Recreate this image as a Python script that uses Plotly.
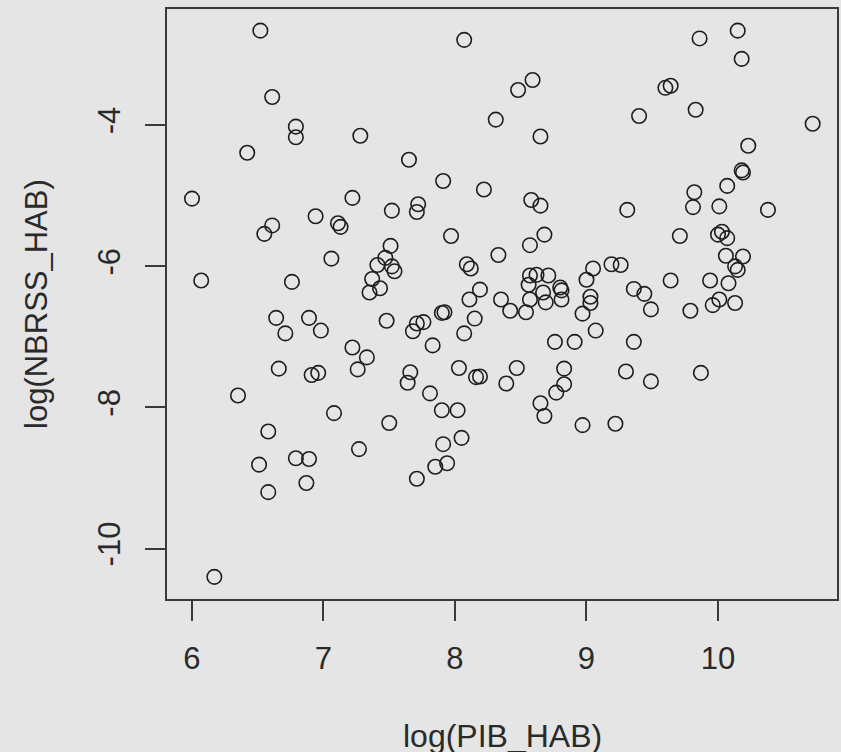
import plotly.graph_objects as go

# log(PIB_HAB) values
log_pib = [
    6.52, 6.61, 6.79, 6.79, 7.28, 6.42, 6.00, 7.22, 6.94, 6.61,
    6.55, 7.11, 7.13, 7.06, 6.07, 6.76, 6.64, 6.71, 6.89, 6.98,
    7.22, 7.33, 7.26, 6.66, 6.91, 6.96, 6.35, 7.08, 6.58, 7.27,
    6.51, 6.79, 6.89, 6.87, 6.58, 6.17,
    7.51, 7.47, 7.41, 7.52, 7.54, 7.37, 7.43, 7.35, 7.52,
    8.07, 8.59, 8.48, 8.31, 8.65, 7.65, 7.91, 8.22, 8.58, 8.65,
    7.72, 7.71, 7.97, 8.68, 8.57, 8.33, 8.09, 8.12, 9.05, 9.00,
    8.57, 8.62, 8.71, 8.56, 8.67, 8.80, 8.81, 8.81, 8.69, 8.57,
    8.35, 8.19, 8.11, 9.03, 9.03, 8.42, 8.54, 8.97, 9.07, 8.76,
    8.91,
    7.48, 7.71, 7.76, 7.68, 7.90, 7.92, 8.15, 8.07, 7.83,
    7.66, 7.64, 8.03, 8.16, 8.19, 8.47, 8.39, 8.83, 8.83, 8.77,
    7.81, 7.90, 8.02, 8.65, 8.68, 7.50, 8.97, 8.05, 7.91, 7.85,
    7.94, 7.71,
    10.15, 9.86, 10.18, 9.60, 9.64, 9.40, 9.83, 10.72, 10.23, 10.18,
    10.19, 10.07, 9.82, 9.81, 10.01, 9.31, 10.38, 9.71, 10.00, 10.03,
    10.07, 10.06, 10.19, 10.13, 10.15, 9.19, 9.26, 9.64, 9.94, 10.08,
    9.36, 9.44, 9.49, 9.79, 9.96, 10.01, 10.13,
    9.36, 9.30, 9.49, 9.87, 9.22,
]

# log(NBRSS_HAB) values
log_nbrss = [
    -2.66, -3.60, -4.02, -4.17, -4.15, -4.39, -5.04, -5.03, -5.29, -5.42,
    -5.54, -5.39, -5.44, -5.89, -6.20, -6.22, -6.73, -6.95, -6.73, -6.91,
    -7.15, -7.29, -7.46, -7.45, -7.54, -7.51, -7.83, -8.08, -8.34, -8.59,
    -8.81, -8.72, -8.73, -9.07, -9.20, -10.40,
    -5.71, -5.88, -5.98, -6.00, -6.07, -6.18, -6.31, -6.37, -5.21,
    -2.79, -3.36, -3.50, -3.92, -4.16, -4.49, -4.79, -4.91, -5.06, -5.14,
    -5.12, -5.23, -5.57, -5.55, -5.70, -5.84, -5.97, -6.03, -6.03, -6.19,
    -6.13, -6.12, -6.13, -6.26, -6.37, -6.30, -6.34, -6.47, -6.51, -6.47,
    -6.47, -6.33, -6.47, -6.43, -6.52, -6.63, -6.65, -6.67, -6.91, -7.07,
    -7.07,
    -6.77, -6.81, -6.79, -6.92, -6.66, -6.65, -6.74, -6.95, -7.12,
    -7.50, -7.65, -7.44, -7.57, -7.56, -7.44, -7.66, -7.45, -7.67, -7.79,
    -7.80, -8.04, -8.04, -7.94, -8.12, -8.22, -8.25, -8.43, -8.52, -8.84,
    -8.79, -9.01,
    -2.66, -2.77, -3.06, -3.47, -3.44, -3.87, -3.78, -3.98, -4.29, -4.64,
    -4.67, -4.86, -4.95, -5.16, -5.15, -5.20, -5.20, -5.57, -5.55, -5.51,
    -5.60, -5.85, -5.86, -6.00, -6.05, -5.97, -5.98, -6.20, -6.20, -6.24,
    -6.32, -6.39, -6.61, -6.63, -6.55, -6.47, -6.52,
    -7.07, -7.49, -7.63, -7.51, -8.23,
]

x_ticks = [6, 7, 8, 9, 10]
x_tick_labels = ["6", "7", "8", "9", "10"]
y_ticks = [-10, -8, -6, -4]
y_tick_labels = ["-10", "-8", "-6", "-4"]

BG = "#e5e5e5"
INK = "#2a2a2a"
FONT = "Liberation Sans, Arial, sans-serif"

fig = go.Figure(
    go.Scatter(
        x=log_pib,
        y=log_nbrss,
        mode="markers",
        marker=dict(symbol="circle-open", size=14.5, color="#1e1e1e",
                    line=dict(width=1.6, color="#1e1e1e")),
        hoverinfo="x+y",
    )
)

axis_common = dict(
    showgrid=False,
    zeroline=False,
    showline=True,
    linecolor="#3a3a3a",
    linewidth=2,
    mirror=True,
    ticks="outside",
    ticklen=20,
    tickwidth=2,
    tickcolor="#3a3a3a",
    tickfont=dict(family=FONT, size=31, color=INK),
    tickmode="array",
)

fig.update_xaxes(range=[5.81, 10.905], tickvals=x_ticks, ticktext=x_tick_labels,
                 ticklabelstandoff=11, **axis_common)
fig.update_yaxes(range=[-10.714, -2.353], tickvals=y_ticks, ticktext=y_tick_labels,
                 tickangle=-90, ticklabelstandoff=13, **axis_common)

fig.update_layout(
    width=841,
    height=752,
    margin=dict(l=167, r=2, t=9, b=153),
    paper_bgcolor=BG,
    plot_bgcolor=BG,
    showlegend=False,
    font=dict(family=FONT, color=INK),
    annotations=[
        dict(text="log(PIB_HAB)", xref="paper", yref="paper", x=0.5, y=0,
             xanchor="center", yanchor="middle", yshift=-137, showarrow=False,
             font=dict(family=FONT, size=32, color=INK)),
        dict(text="log(NBRSS_HAB)", xref="paper", yref="paper", x=0, y=0.5,
             xanchor="center", yanchor="middle", xshift=-131, textangle=-90,
             showarrow=False, font=dict(family=FONT, size=31, color=INK)),
    ],
)

fig.write_html(
    "out.html",
    config={"displayModeBar": False},
    post_script="document.body.style.margin='0';document.body.style.overflow='hidden';"
                "document.body.style.background='" + BG + "';",
)
